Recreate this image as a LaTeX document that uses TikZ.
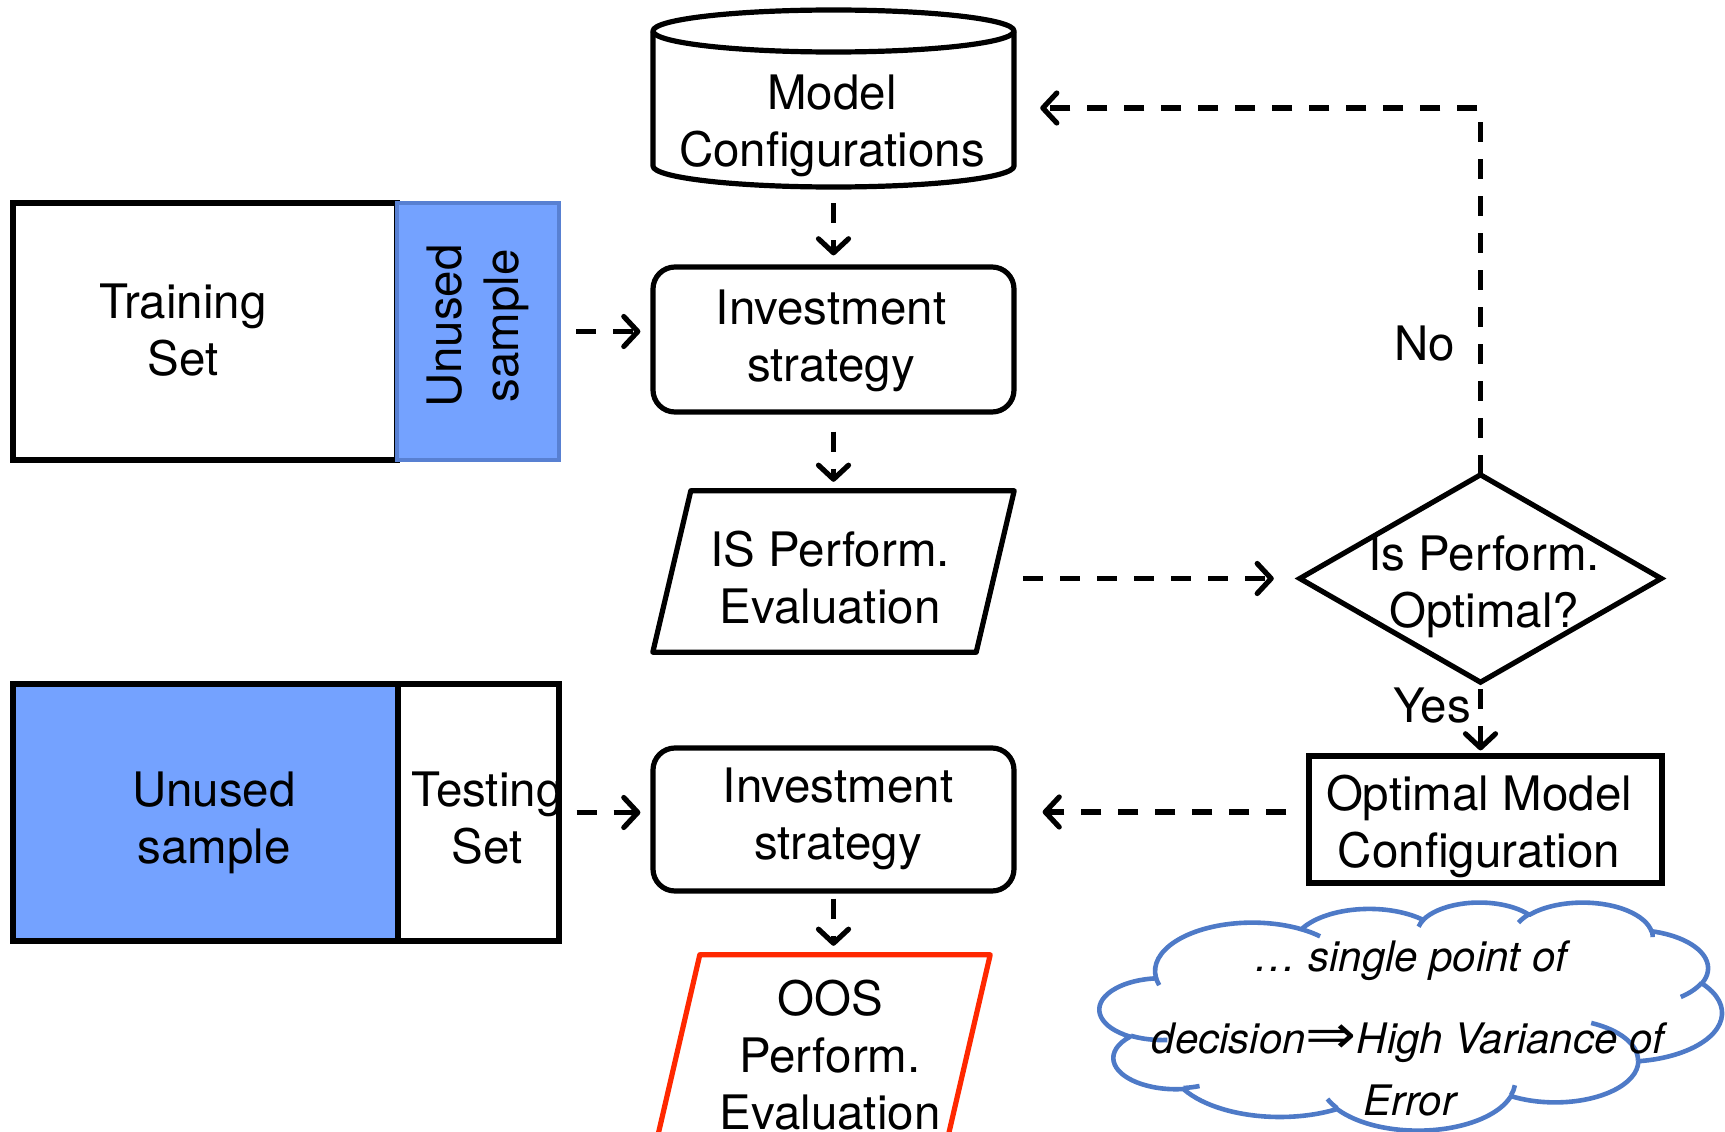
\documentclass[tikz,border=0pt]{standalone}
\usepackage{fontspec}
\usepackage{graphicx}
\setmainfont{TeX Gyre Heros}
\newfontfamily\dejavu{DejaVu Sans}
\usetikzlibrary{arrows.meta}
\definecolor{ublue}{RGB}{116,162,255}
\definecolor{ubord}{RGB}{88,128,210}
\definecolor{oosred}{RGB}{255,40,0}
\definecolor{cloudblue}{RGB}{78,122,199}
\tikzset{
  box/.style={draw, line width=5.2pt, rectangle, inner sep=0pt, align=center},
  rbox/.style={box, rounded corners=22pt},
  ghost/.style={rectangle, inner sep=0pt},
  txt/.style={align=center, inner sep=0pt, font=\fontsize{47.5}{57}\selectfont},
  ctxt/.style={align=center, inner sep=0pt, font=\fontsize{42}{50}\selectfont\itshape},
  arr/.style={line width=5.2pt, dash pattern=on 20pt off 17pt,
    -{Straight Barb[length=14pt,width=30pt,line cap=round,line join=round]}},
  cloudline/.style={draw=cloudblue, line width=4.6pt},
}
% parametric start angle and sweep of a DrawingML arcTo
\newcommand\cldpar[5]{%
  \pgfmathsetmacro\tmpS{atan2((#2)*sin(#4),(#3)*cos(#4))}%
  \pgfmathsetmacro\tmpE{atan2((#2)*sin((#4)+(#5)),(#3)*cos((#4)+(#5)))}%
  \pgfmathsetmacro\tmpD{\tmpE-\tmpS}%
  \pgfmathsetmacro\tmpD{\tmpD-360*round((\tmpD-(#5))/360)}%
  \expandafter\xdef\csname cls#1\endcsname{\tmpS}%
  \expandafter\xdef\csname cld#1\endcsname{\tmpD}%
}
\begin{document}
\cldpar{A}{67.53}{91.90}{-190.4875}{123.7805}%
\cldpar{B}{53.33}{72.67}{-144.1024}{89.9452}%
\cldpar{C}{43.65}{59.45}{-145.8079}{99.7230}%
\cldpar{D}{48.57}{65.95}{-130.9861}{117.2417}%
\cldpar{E}{53.33}{72.73}{-78.7089}{109.0269}%
\cldpar{F}{67.75}{92.20}{-46.2673}{130.2690}%
\cldpar{G}{57.85}{78.67}{0.6250}{114.0333}%
\cldpar{H}{67.52}{92.15}{22.4516}{115.1726}%
\cldpar{I}{77.20}{105.43}{66.2426}{75.7110}%
\cldpar{J}{43.60}{59.18}{-274.9421}{146.7356}%
\cldpar{K}{43.45}{59.45}{-246.8285}{152.5189}%
\cldpar{a}{43.45}{59.45}{86.7420}{26.4295}%
\cldpar{b}{43.60}{59.18}{73.6105}{11.4475}%
\cldpar{c}{67.52}{92.15}{137.6242}{14.0811}%
\cldpar{d}{67.52}{92.15}{6.4533}{15.9984}%
\cldpar{e}{57.85}{78.67}{-70.2924}{70.9174}%
\cldpar{f}{53.33}{72.73}{30.3180}{27.7515}%
\cldpar{g}{48.57}{65.95}{-13.7443}{14.8549}%
\cldpar{h}{48.57}{65.95}{-149.1815}{18.1954}%
\cldpar{i}{43.65}{59.45}{-163.4943}{17.6864}%
\cldpar{j}{67.53}{91.90}{-66.7070}{12.3194}%
\cldpar{k}{67.53}{91.90}{157.6544}{11.8582}%
\begin{tikzpicture}[x=1pt,y=-1pt, font=\fontsize{47.5}{57}\selectfont]
\useasboundingbox (0,0) rectangle (1725,1132);
\begin{scope}
\clip (0,0) rectangle (1725,1132);

% Model configurations cylinder
\node[ghost, minimum width=361pt, minimum height=177pt] (cyl) at (833.5,98.5) {};
\draw[line width=5.2pt, fill=white, line join=round] (653,31) -- (653,166)
  arc[start angle=180, end angle=0, x radius=180.5, y radius=21] -- (1014,31)
  arc[start angle=0, end angle=-180, x radius=180.5, y radius=21] -- cycle;
\draw[line width=5.2pt] (653,31) arc[start angle=180, end angle=0, x radius=180.5, y radius=21];
\node[txt] (mc) at (832,126) {Model\\Configurations};

% Training set
\node[box, minimum width=384pt, minimum height=257pt] (tr) at (205,331.5) {};
\node[box, draw=ubord, line width=4pt, fill=ublue, minimum width=162pt, minimum height=257pt] (unu1) at (478,331.5) {};
\node[txt] at (183,330) {Training\\Set};
\node[txt, rotate=90] at (478,326) {Unused\\sample};

% Investment strategy 1
\node[rbox, minimum width=361pt, minimum height=145pt] (inv1) at (833.5,339.5) {};
\node[txt] at (831,341) {Investment\\strategy};

% IS performance evaluation
\node[ghost, minimum width=361pt, minimum height=161pt] (is) at (833.5,571.5) {};
\draw[line width=5.2pt, line join=round] ([xshift=38pt]is.north west) -- (is.north east)
  -- ([xshift=-38pt]is.south east) -- (is.south west) -- cycle;
\node[txt] at (830,578) {IS Perform.\\Evaluation};

% Diamond
\node[ghost, minimum width=361pt, minimum height=207pt] (dm) at (1480.5,578.5) {};
\draw[line width=5.2pt, line join=miter] (dm.north) -- (dm.east) -- (dm.south) -- (dm.west) -- cycle;
\node[txt] at (1484,587) {Is Perform.\\Optimal?};

% Optimal model configuration
\node[box, minimum width=353pt, minimum height=127pt] (opt) at (1485.5,819.5) {};
\node[txt] at (1479,826) {Optimal Model\\Configuration};

% Unused / Testing
\node[box, fill=ublue, minimum width=385pt, minimum height=257pt] (unu2) at (205.5,812.5) {};
\node[box, minimum width=161pt, minimum height=257pt] (te) at (478.5,812.5) {};
\node[txt] at (214,823) {Unused\\sample};
\node[txt] at (487,818) {Testing\\Set};

% Investment strategy 2
\node[rbox, minimum width=361pt, minimum height=143pt] (inv2) at (833.5,819.5) {};
\node[txt] at (838,819) {Investment\\strategy};

% OOS
\node[ghost, minimum width=333pt, minimum height=185pt] (oos) at (823.5,1047.5) {};
\draw[line width=5.2pt, draw=oosred, line join=round] ([xshift=43pt]oos.north west) -- (oos.north east)
  -- ([xshift=-43pt]oos.south east) -- (oos.south west) -- cycle;
\node[txt] at (830,1055) {OOS\\Perform.\\Evaluation};

% Cloud (DrawingML cloud geometry)
\node[ghost, minimum width=622pt, minimum height=228pt] (cl) at (1411,1016) {};
\begin{scope}[shift={(cl.north west)}, x=1.4398pt, y=-0.5278pt]
\draw[cloudline, line join=round] (39.00,143.70)
  arc[start angle=\clsA, delta angle=\cldA, x radius=67.53, y radius=91.90]
  arc[start angle=\clsB, delta angle=\cldB, x radius=53.33, y radius=72.67]
  arc[start angle=\clsC, delta angle=\cldC, x radius=43.65, y radius=59.45]
  arc[start angle=\clsD, delta angle=\cldD, x radius=48.57, y radius=65.95]
  arc[start angle=\clsE, delta angle=\cldE, x radius=53.33, y radius=72.73]
  arc[start angle=\clsF, delta angle=\cldF, x radius=67.75, y radius=92.20]
  arc[start angle=\clsG, delta angle=\cldG, x radius=57.85, y radius=78.67]
  arc[start angle=\clsH, delta angle=\cldH, x radius=67.52, y radius=92.15]
  arc[start angle=\clsI, delta angle=\cldI, x radius=77.20, y radius=105.43]
  arc[start angle=\clsJ, delta angle=\cldJ, x radius=43.60, y radius=59.18]
  arc[start angle=\clsK, delta angle=\cldK, x radius=43.45, y radius=59.45]
  -- cycle;
\draw[cloudline] (46.93,261.77) arc[start angle=\clsa, delta angle=\clda, x radius=43.45, y radius=59.45];
\draw[cloudline] (69.28,348.99) arc[start angle=\clsb, delta angle=\cldb, x radius=43.60, y radius=59.18];
\draw[cloudline] (164.78,390.90) arc[start angle=\clsc, delta angle=\cldc, x radius=67.52, y radius=92.15];
\draw[cloudline] (288.27,347.51) arc[start angle=\clsd, delta angle=\cldd, x radius=67.52, y radius=92.15];
\draw[cloudline] (341.29,229.54) arc[start angle=\clse, delta angle=\clde, x radius=57.85, y radius=78.67];
\draw[cloudline] (417.98,153.54) arc[start angle=\clsf, delta angle=\cldf, x radius=53.33, y radius=72.73];
\draw[cloudline] (383.24,54.26) arc[start angle=\clsg, delta angle=\cldg, x radius=48.57, y radius=65.95];
\draw[cloudline] (290.78,39.52) arc[start angle=\clsh, delta angle=\cldh, x radius=48.57, y radius=65.95];
\draw[cloudline] (221.41,47.20) arc[start angle=\clsi, delta angle=\cldi, x radius=43.65, y radius=59.45];
\draw[cloudline] (140.00,51.92) arc[start angle=\clsj, delta angle=\cldj, x radius=67.53, y radius=91.90];
\draw[cloudline] (41.27,157.89) arc[start angle=\clsk, delta angle=\cldk, x radius=67.53, y radius=91.90];
\end{scope}
\node[ctxt] at (1411,961) {\dots\ single point of};
\node[ctxt] at (1408,1043) {decision{\upshape\dejavu\scalebox{1.45}[1.3]{⇒}}High Variance of};
\node[ctxt] at (1410,1100) {Error};

% Connectors
\draw[arr] ([yshift=-16pt]cyl.south) -- ([yshift=9pt]inv1.north);
\draw[arr] ([xshift=15pt]unu1.east) -- ([xshift=-10pt]inv1.west |- unu1.east);
\draw[arr] ([yshift=-17pt]inv1.south) -- ([yshift=9pt]is.north);
\draw[arr] ([xshift=9pt]is.east |- dm.west) -- ([xshift=-26pt]dm.west);
\draw[arr] (dm.north) |- ([xshift=26pt,yshift=-9.5pt]cyl.east);
\draw[arr] ([yshift=-7pt]dm.south) -- ([yshift=3pt]opt.north -| dm.south);
\draw[arr] ([xshift=-20pt,yshift=7.5pt]opt.west) -- ([xshift=26pt,yshift=7.5pt]opt.west -| inv2.east);
\draw[arr] ([xshift=15pt]te.east) -- ([xshift=-10pt]inv2.west |- te.east);
\draw[arr] ([yshift=-5pt]inv2.south) -- ([yshift=9pt]oos.north -| inv2.south);

\node[txt] at (1425,344) {No};
\node[txt] at (1432,706) {Yes};
\end{scope}
\end{tikzpicture}
\end{document}
